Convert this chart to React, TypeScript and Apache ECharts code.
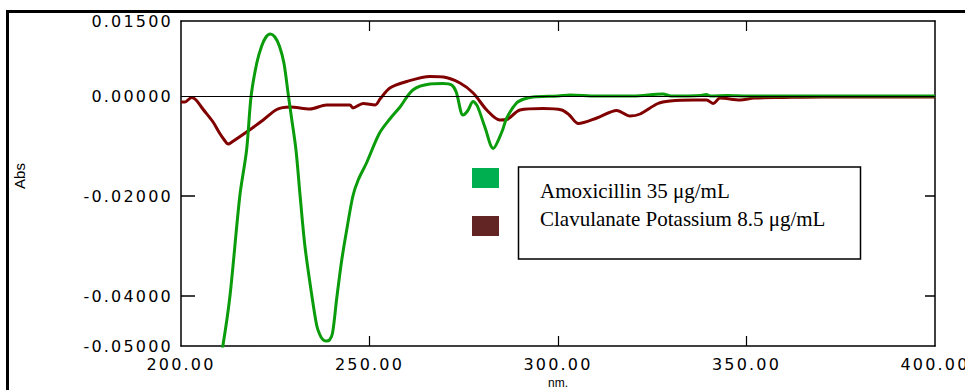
import React, { useEffect, useRef } from "react";
import * as echarts from "echarts";

// ---- data ----
const amoxWavelength = [
  210.5, 211.1, 213.0, 215.6, 217.4, 218.6, 220.1, 221.4, 222.55, 223.7, 224.9, 226.1, 227.3,
  228.5, 229.4, 230.5, 231.6, 232.9, 234.7, 236.0, 236.8, 237.6, 238.5, 239.4, 240.2, 241.3, 242.6, 243.95,
  245.6, 247.0, 249.2, 252.6, 255.5, 258.1, 261.5, 266.0, 269.5, 271.8, 273.0, 274.8, 276.0, 277.5, 278.6,
  280.6, 282.8, 285.1, 286.4, 289.0, 291.0, 293.4, 300.0, 303.2, 310.0, 320.0, 327.8, 330.0, 338.0, 339.3,
  340.5, 345.0, 350.0, 360.0, 380.0, 400.0,
];
const amoxAbs = [
  -0.0515, -0.05, -0.0399, -0.02, -0.0108, 0.0, 0.0066, 0.01, 0.0118, 0.0124, 0.0118, 0.01, 0.0066,
  0.0, -0.0048, -0.0108, -0.02, -0.0302, -0.0399, -0.0459, -0.0477, -0.0487, -0.049, -0.0488, -0.0474, -0.0405, -0.033, -0.0268,
  -0.02, -0.0168, -0.0134, -0.0075, -0.0045, -0.0022, 0.0012, 0.0024, 0.0025, 0.0022, 0.0008, -0.0038, -0.003, -0.0011, -0.002,
  -0.0062, -0.0105, -0.0072, -0.0044, -0.0014, -0.0006, -0.0002, 0.0, 0.0002, 0.0, 0.0, 0.0004, 0.0, 0.0001, 0.0003,
  0.0, 0.0001, 0.0, 0.0, 0.0, 0.0,
];

const clavWavelength = [
  200.0, 201.0, 202.8, 204.0, 205.8, 208.5, 210.3, 211.5, 212.5, 213.5, 217.4, 221.8, 225.4, 228.9, 234.2,
  238.6, 244.8, 245.6, 248.3, 251.5, 252.8, 255.4, 259.9, 266.0, 269.6, 274.0, 277.5, 281.1, 284.6, 286.4,
  289.9, 296.1, 301.0, 303.0, 305.4, 310.3, 315.6, 319.1, 321.8, 326.5, 329.7, 336.0, 339.4, 341.2, 343.0,
  348.3, 352.0, 359.7, 370.0, 385.0, 400.0,
];
const clavAbs = [
  -0.0012, -0.0012, -0.0003, -0.0008, -0.0026, -0.0052, -0.0075, -0.0088, -0.0096, -0.0092, -0.0072, -0.0048, -0.0027, -0.0022, -0.0026,
  -0.0018, -0.0018, -0.0024, -0.0015, -0.0018, -0.0006, 0.0016, 0.0029, 0.0039, 0.0038, 0.0026, 0.0006, -0.0028, -0.0048, -0.0047,
  -0.0028, -0.0025, -0.0028, -0.0038, -0.0055, -0.0044, -0.0029, -0.004, -0.0036, -0.0015, -0.001, -0.0008, -0.0008, -0.0015, -0.0004,
  -0.0008, -0.0004, -0.0003, -0.0002, -0.0002, -0.0002,
];

const seriesNames = ["Amoxicillin 35 μg/mL", "Clavulanate Potassium 8.5 μg/mL"];
const xLabelValues = [200, 250, 300, 350, 400];
const xTickValues = [250, 300, 350];
const yLabelValues = [-0.05, -0.04, -0.02, 0, 0.015];
const yTickValues = [-0.04, -0.02];
const xAxisTitle = "nm.";
const yAxisTitle = "Abs";

const amoxColor = "#0a9c0a";
const clavColor = "#800000";

export default function App() {
  const ref = useRef<HTMLDivElement>(null);

  useEffect(() => {
    if (!ref.current) return;
    const chart = echarts.init(ref.current, null, { renderer: "svg" });

    const amoxData = amoxWavelength.map((x, i) => [x, amoxAbs[i]]);
    const clavData = clavWavelength.map((x, i) => [x, clavAbs[i]]);

    const axisLine = { show: true, onZero: false, lineStyle: { color: "#000", width: 1.5 } };
    const labelStyle = { color: "#000", fontFamily: "DejaVu Sans", fontSize: 16 };

    chart.setOption({
      animation: false,
      backgroundColor: "#fff",
      grid: { left: 181, right: 30, top: 21, bottom: 44, outerBoundsMode: "none" },
      xAxis: [
        {
          type: "value",
          position: "bottom",
          min: 200,
          max: 400,
          interval: 50,
          axisLine,
          axisTick: { show: true, inside: true, length: 10, customValues: xTickValues, lineStyle: { color: "#000", width: 1.2 } },
          axisLabel: { ...labelStyle, margin: 10, customValues: xLabelValues, formatter: (v: number) => v.toFixed(2) },
          splitLine: { show: false },
          name: xAxisTitle,
          nameLocation: "middle",
          nameGap: 31,
          nameTextStyle: { fontFamily: "Liberation Sans", fontSize: 12, color: "#000" },
        },
        {
          type: "value",
          position: "top",
          min: 200,
          max: 400,
          interval: 50,
          axisLine,
          axisTick: { show: true, inside: true, length: 10, customValues: xTickValues, lineStyle: { color: "#000", width: 1.2 } },
          axisLabel: { show: false },
          splitLine: { show: false },
        },
      ],
      yAxis: [
        {
          type: "value",
          position: "left",
          min: -0.05,
          max: 0.015,
          interval: 0.005,
          axisLine,
          axisTick: { show: true, inside: true, length: 14, customValues: yTickValues, lineStyle: { color: "#000", width: 1.5 } },
          axisLabel: { ...labelStyle, margin: 8, customValues: yLabelValues, formatter: (v: number) => v.toFixed(5) },
          splitLine: { show: false },
          name: yAxisTitle,
          nameLocation: "middle",
          nameRotate: 90,
          nameGap: 154,
          nameTextStyle: { fontFamily: "Liberation Sans", fontSize: 15, color: "#000", padding: [0, 0, 0, 15] },
        },
        {
          type: "value",
          position: "right",
          min: -0.05,
          max: 0.015,
          interval: 0.005,
          axisLine,
          axisTick: { show: true, inside: true, length: 10, customValues: yTickValues, lineStyle: { color: "#000", width: 1.5 } },
          axisLabel: { show: false },
          splitLine: { show: false },
        },
      ],
      series: [
        {
          name: seriesNames[1],
          type: "line",
          data: clavData,
          showSymbol: false,
          symbol: "none",
          smooth: 0.3,
          clip: true,
          lineStyle: { color: clavColor, width: 3 },
          markLine: {
            silent: true,
            symbol: "none",
            label: { show: false },
            lineStyle: { color: "#000", width: 1.2, type: "solid" },
            data: [{ yAxis: 0 }],
            animation: false,
          },
          z: 2,
        },
        {
          name: seriesNames[0],
          type: "line",
          data: amoxData,
          showSymbol: false,
          symbol: "none",
          smooth: 0.3,
          clip: true,
          lineStyle: { color: amoxColor, width: 3 },
          z: 3,
        },
      ],
      graphic: [
        {
          type: "rect",
          shape: { x: 7.5, y: 11.5, width: 1000, height: 600 },
          style: { fill: "none", stroke: "#000", lineWidth: 3 },
          silent: true,
          z: 10,
        },
        {
          type: "rect",
          shape: { x: 472, y: 168, width: 27, height: 20 },
          style: { fill: "#00b050" },
          z: 10,
        },
        {
          type: "rect",
          shape: { x: 472, y: 216, width: 27, height: 20 },
          style: { fill: "#632523" },
          z: 10,
        },
        {
          type: "rect",
          shape: { x: 518.5, y: 167, width: 342, height: 92 },
          style: { fill: "#fff", stroke: "#000", lineWidth: 1.5 },
          z: 10,
        },
        {
          type: "text",
          x: 540,
          y: 190.5,
          style: {
            text: seriesNames[0],
            fill: "#000",
            font: "21px 'Liberation Serif'",
            align: "left",
            verticalAlign: "middle",
          },
          z: 11,
        },
        {
          type: "text",
          x: 540,
          y: 219,
          style: {
            text: seriesNames[1],
            fill: "#000",
            font: "21px 'Liberation Serif'",
            align: "left",
            verticalAlign: "middle",
          },
          z: 11,
        },
      ],
    });

    return () => chart.dispose();
  }, []);

  return (
    <>
      <style>{`#chart-root text[style*="DejaVu"], #chart-root text[font-family*="DejaVu"] { letter-spacing: 2.2px; }`}</style>
      <div
        id="chart-root"
        ref={ref}
        style={{ position: "fixed", left: 0, top: 0, width: 965, height: 390, background: "#fff" }}
      />
    </>
  );
}
